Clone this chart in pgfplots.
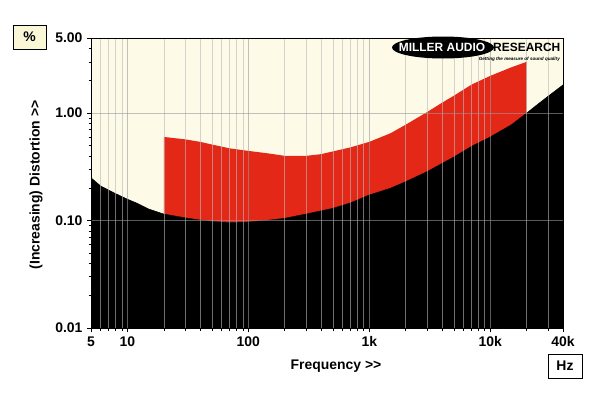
\documentclass[border=0pt]{standalone}
\usepackage{fontspec}
\setmainfont{Liberation Sans}
\usepackage{pgfplots}
\pgfplotsset{compat=1.18}
\definecolor{cream}{RGB}{253,251,232}
\definecolor{mred}{RGB}{228,40,24}
\definecolor{boxcream}{RGB}{250,247,215}
\begin{document}
\begin{tikzpicture}[x=1bp,y=1bp]
\useasboundingbox (-91,-71) rectangle (509,328);
\begin{axis}[
  name=ax, at={(0,0)}, anchor=south west,
  scale only axis, width=472bp, height=290bp,
  xmode=log, ymode=log,
  xmin=5, xmax=40000, ymin=0.01, ymax=5,
  axis background/.style={fill=cream},
  axis on top,
  xtick={5,10,100,1000,10000,40000},
  xticklabels={5,10,100,1k,10k,40k},
  minor xtick={6,7,8,9,20,30,40,50,60,70,80,90,200,300,400,500,600,700,800,900,2000,3000,4000,5000,6000,7000,8000,9000,20000,30000},
  ytick={0.01,0.1,1,5},
  yticklabels={0.01,0.10,1.00,5.00},
  minor ytick={0.02,0.03,0.04,0.05,0.06,0.07,0.08,0.09,0.2,0.3,0.4,0.5,0.6,0.7,0.8,0.9,2,3,4},
  xmajorgrids, xminorgrids, ymajorgrids,
  grid style={draw=gray!55!white, opacity=0.6, line width=0.6pt},
  minor grid style={draw=gray!55!white, opacity=0.6, line width=0.6pt},
  major grid style={draw=gray!80!white, opacity=0.6, line width=0.7pt},
  tick align=outside,
  major tick length=4bp, minor tick length=2.5bp,
  tick style={black, line width=0.6pt},
  xtick pos=bottom, ytick pos=left,
  axis line style={black, line width=0.8pt},
  tick label style={font=\bfseries\fontsize{14}{14}\selectfont},
  xticklabel style={yshift=-1bp},
  yticklabel style={xshift=-1bp},
]
% red band: upper curve 20 Hz - 20 kHz, then back along lower curve
\addplot[fill=mred, draw=none] coordinates {
  (20,0.60) (30,0.57) (40,0.54) (50,0.51) (70,0.47) (100,0.445) (150,0.42)
  (200,0.40) (300,0.40) (400,0.415) (500,0.44) (700,0.48) (1000,0.54)
  (1500,0.65) (2000,0.78) (3000,1.02) (4000,1.25) (5000,1.45) (7000,1.84) (10000,2.22)
  (15000,2.67) (20000,3.0)
  (20000,1.0) (15000,0.78) (10000,0.60) (7000,0.49) (5000,0.39) (3000,0.285)
  (2000,0.23) (1500,0.20) (1000,0.173) (700,0.146) (500,0.13) (300,0.115)
  (200,0.105) (150,0.101) (100,0.097) (70,0.096) (50,0.098) (40,0.101)
  (30,0.106) (20,0.115)
} -- cycle;
% black area under the residual curve
\addplot[fill=black, draw=black, line width=0.5pt] coordinates {
  (5,0.01) (5,0.25) (6,0.21) (7,0.192) (8,0.178) (10,0.158) (12,0.145)
  (15,0.128) (20,0.115) (30,0.106) (40,0.101) (50,0.098)
  (70,0.096) (100,0.097) (150,0.101) (200,0.105)
  (300,0.115) (500,0.13) (700,0.146) (1000,0.173) (1500,0.20)
  (2000,0.23) (3000,0.285) (5000,0.39) (7000,0.49) (10000,0.60)
  (15000,0.78) (20000,1.0) (25000,1.22) (30000,1.43) (40000,1.83) (40000,0.01)
} -- cycle;
\end{axis}
% axis titles and unit boxes
\node[font=\bfseries\fontsize{14}{14}\selectfont] at (245,-38) {Frequency >\kern0pt>};
\node[font=\bfseries\fontsize{14}{14}\selectfont, rotate=90] at (-55,143) {(Increasing) Distortion >\kern0pt>};
\node[draw=black, line width=0.8pt, fill=boxcream, minimum width=33bp, minimum height=24bp, inner sep=0pt,
      font=\bfseries\fontsize{14}{14}\selectfont] at (-61.5,291) {\%};
\node[draw=black, line width=0.8pt, fill=white, minimum width=34bp, minimum height=24bp, inner sep=0pt,
      font=\bfseries\fontsize{14}{14}\selectfont] at (474,-38) {Hz};
% logo
\fill[black] (352,280.5) ellipse (51bp and 11bp);
\node[white, font=\bfseries\fontsize{12}{12}\selectfont, inner sep=0pt] at (351,280.5) {MILLER AUDIO};
\node[black, anchor=west, font=\bfseries\fontsize{12}{12}\selectfont, inner sep=0pt] at (402,280.5) {RESEARCH};
\node[black, anchor=east, font=\bfseries\itshape\fontsize{4.6}{4.6}\selectfont, inner sep=0pt] at (469,268.5) {Getting the measure of sound quality};
\end{tikzpicture}
\end{document}
